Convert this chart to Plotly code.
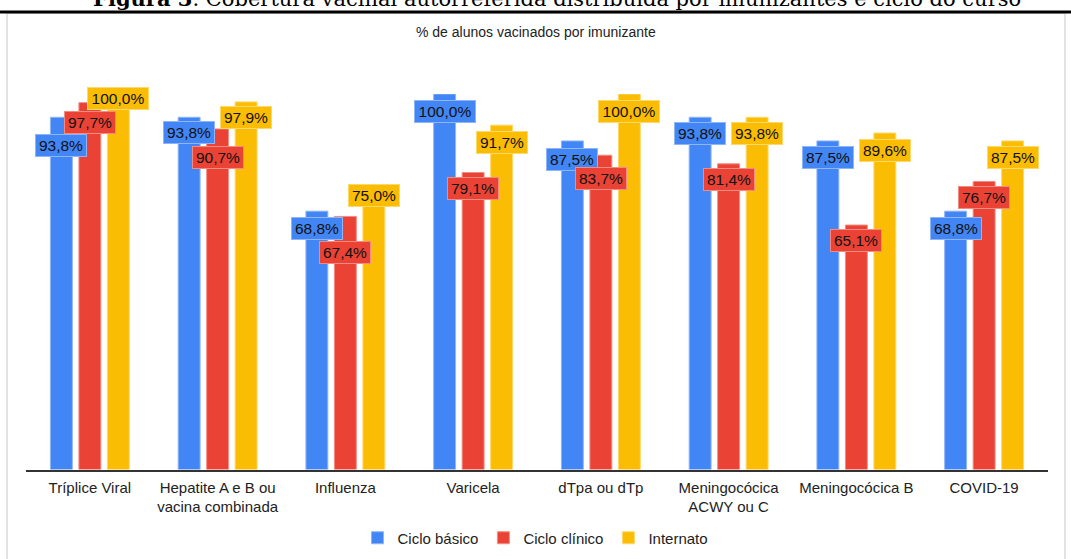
import plotly.graph_objects as go

categories = ["Tríplice Viral", "Hepatite A e B ou<br>vacina combinada", "Influenza", "Varicela",
              "dTpa ou dTp", "Meningocócica<br>ACWY ou C", "Meningocócica B", "COVID-19"]
series_names = ["Ciclo básico", "Ciclo clínico", "Internato"]
ciclo_basico = [93.8, 93.8, 68.8, 100.0, 87.5, 93.8, 87.5, 68.8]
ciclo_clinico = [97.7, 90.7, 67.4, 79.1, 83.7, 81.4, 65.1, 76.7]
internato = [100.0, 97.9, 75.0, 91.7, 100.0, 93.8, 89.6, 87.5]
series_values = [ciclo_basico, ciclo_clinico, internato]

# styling
colors = ["#4285F4", "#EA4335", "#FBBC04"]
edge_colors = ["#8fb5f8", "#f28b82", "#fdd86a"]
# vertical shift (px below bar top) of each data label, as placed in the original
label_drop = [
    [28, 15, 17, 17, 19, 16, 17, 17],
    [20, 29, 36, 16, 23, 16, 15, 16],
    [4, 16, 8, 17, 17, 16, 17, 17],
]

W, H = 1071, 559
x0_px, x1_px = 26, 1048
y_top_px, y_base_px = 94, 469.5

fig = go.Figure()
for i, (name, vals) in enumerate(zip(series_names, series_values)):
    fig.add_trace(go.Bar(
        x=categories, y=vals, name=name,
        marker=dict(color=colors[i], line=dict(color=edge_colors[i], width=1)),
        hoverinfo="skip",
    ))

cat_w = (x1_px - x0_px) / len(categories)
slot = cat_w * (1 - 0.331) / 3
annotations = []
for i, vals in enumerate(series_values):
    for j, v in enumerate(vals):
        txt = f"{v:.1f}%".replace(".", ",")
        annotations.append(dict(
            x=categories[j], y=v, xref="x", yref="y",
            xshift=(i - 1) * slot, yshift=-label_drop[i][j],
            text=txt, showarrow=False, xanchor="center", yanchor="middle",
            font=dict(family="Liberation Sans, Arial", size=15.5, color="#111"),
            bgcolor=colors[i], bordercolor=edge_colors[i], borderwidth=1, borderpad=2,
            width=56 if len(txt) > 5 else 46, height=17,
        ))

# chart title
annotations.append(dict(
    x=0.5, y=1 - 32 / H, xref="paper", yref="paper", showarrow=False,
    text="% de alunos vacinados por imunizante", xanchor="center", yanchor="middle",
    font=dict(family="Liberation Sans, Arial", size=14, color="#222"),
))
# clipped figure caption above the frame
annotations.append(dict(
    x=0.52, y=1, xref="paper", yref="paper", showarrow=False, yshift=2,
    text="<b>Figura 3</b>. Cobertura vacinal autorreferida distribuída por imunizantes e ciclo do curso",
    xanchor="center", yanchor="middle",
    font=dict(family="DejaVu Serif", size=21, color="#000"),
))

shapes = [
    dict(type="rect", xref="paper", yref="paper", x0=7 / W, x1=1065 / W, y0=-0.05, y1=1 - 13 / H,
         line=dict(color="#d9d9d9", width=1.5), fillcolor="rgba(0,0,0,0)", layer="below"),
    dict(type="line", xref="paper", yref="paper", x0=0, x1=1, y0=1 - 12 / H, y1=1 - 12 / H,
         line=dict(color="#000", width=3)),
]

fig.update_layout(
    width=W, height=H, margin=dict(l=0, r=0, t=0, b=0),
    paper_bgcolor="white", plot_bgcolor="white",
    barmode="group", bargap=0.331, bargroupgap=0.23,
    showlegend=True,
    legend=dict(orientation="h", x=0.5, xanchor="center", y=(H - 538) / H, yanchor="middle",
                font=dict(family="Liberation Sans, Arial", size=15, color="#222"),
                itemwidth=30, traceorder="normal"),
    xaxis=dict(domain=[x0_px / W, x1_px / W], showline=True, linecolor="#333", linewidth=2,
               ticks="", ticklabelstandoff=3,
               tickfont=dict(family="Liberation Sans, Arial", size=15, color="#222"),
               showgrid=False),
    yaxis=dict(domain=[(H - y_base_px) / H, (H - y_top_px) / H], range=[0, 100],
               showticklabels=False, showgrid=False, zeroline=False, ticks=""),
    annotations=annotations, shapes=shapes,
)

fig.write_html("out.html", config={"displayModeBar": False},
               post_script="document.body.style.margin='0';document.body.style.padding='0';")
